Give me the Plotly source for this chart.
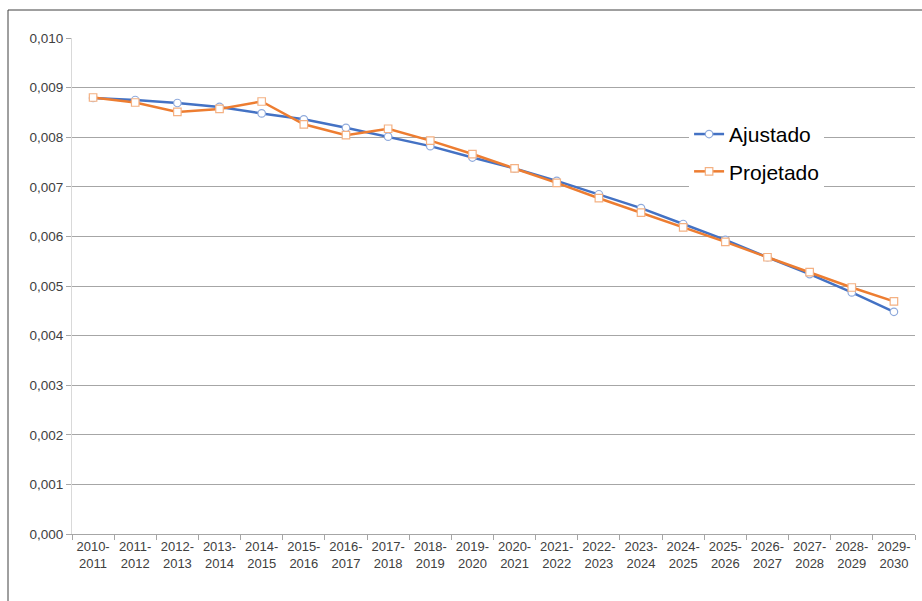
import plotly.graph_objects as go

periods = ["2010-2011", "2011-2012", "2012-2013", "2013-2014", "2014-2015",
           "2015-2016", "2016-2017", "2017-2018", "2018-2019", "2019-2020",
           "2020-2021", "2021-2022", "2022-2023", "2023-2024", "2024-2025",
           "2025-2026", "2026-2027", "2027-2028", "2028-2029", "2029-2030"]
tick_labels = [p.replace("-", "-<br>") for p in periods]

ajustado = [0.00879, 0.00875, 0.00869, 0.00861, 0.00848, 0.00836, 0.00819,
            0.00801, 0.00782, 0.00759, 0.00737, 0.00712, 0.00685, 0.00657,
            0.00625, 0.00593, 0.00558, 0.00524, 0.00487, 0.00448]
projetado = [0.00880, 0.00870, 0.00851, 0.00857, 0.00872, 0.00826, 0.00804,
             0.00817, 0.00793, 0.00766, 0.00737, 0.00708, 0.00677, 0.00648,
             0.00618, 0.00589, 0.00558, 0.00528, 0.00497, 0.00469]
y_ticks = [0.000, 0.001, 0.002, 0.003, 0.004, 0.005, 0.006, 0.007, 0.008, 0.009, 0.010]

BLUE = "#4472C4"
ORANGE = "#ED7D31"
FONT = "Liberation Sans"

fig = go.Figure()
fig.add_trace(go.Scatter(
    x=periods, y=ajustado, name="Ajustado", mode="lines+markers",
    legendgroup="a",
    line=dict(color=BLUE, width=2.5),
    marker=dict(symbol="circle", size=7.5, color="white",
                line=dict(color="#8FAADC", width=1.2)),
))
fig.add_trace(go.Scatter(
    x=periods, y=projetado, name="Projetado", mode="lines+markers",
    legendgroup="b",
    line=dict(color=ORANGE, width=2.5),
    marker=dict(symbol="square", size=7.5, color="white",
                line=dict(color="#F4B183", width=1.2)),
))

fig.update_layout(
    width=922, height=601,
    margin=dict(l=72, r=7, t=38, b=67),
    paper_bgcolor="white", plot_bgcolor="white",
    separators=",.",
    font=dict(family=FONT, size=13, color="#404040"),
    showlegend=True,
    legend=dict(
        x=0.732, y=0.847, xanchor="left", yanchor="top",
        bgcolor="white", borderwidth=0,
        font=dict(family=FONT, size=21, color="#000000"),
        itemwidth=30, tracegroupgap=7, traceorder="grouped",
    ),
    xaxis=dict(
        type="category",
        tickmode="array", tickvals=periods, ticktext=tick_labels,
        showgrid=False, showline=True, linecolor="#A6A6A6", linewidth=1,
        ticks="outside", ticklen=5, tickcolor="#A6A6A6", tickson="boundaries",
        tickangle=0, tickfont=dict(family=FONT, size=13, color="#404040"),
        range=[-0.5, 19.5],
    ),
    yaxis=dict(
        range=[0, 0.010], tickvals=y_ticks, tickformat=".3f",
        showgrid=True, gridcolor="#A6A6A6", gridwidth=1,
        showline=True, linecolor="#D9D9D9", linewidth=1,
        ticks="outside", ticklen=5, tickcolor="#A6A6A6",
        zeroline=False,
        tickfont=dict(family=FONT, size=13.5, color="#404040"),
    ),
    shapes=[dict(
        type="rect", xref="paper", yref="paper",
        x0=(8 - 72) / 843, x1=2, y0=-2, y1=1 + (38 - 10) / 496,
        line=dict(color="#404040", width=1), fillcolor="rgba(0,0,0,0)",
        layer="above",
    )],
)

fig.write_html(
    "out.html",
    config={"displayModeBar": False},
    post_script="document.body.style.margin='0';document.body.style.overflow='hidden';",
)
